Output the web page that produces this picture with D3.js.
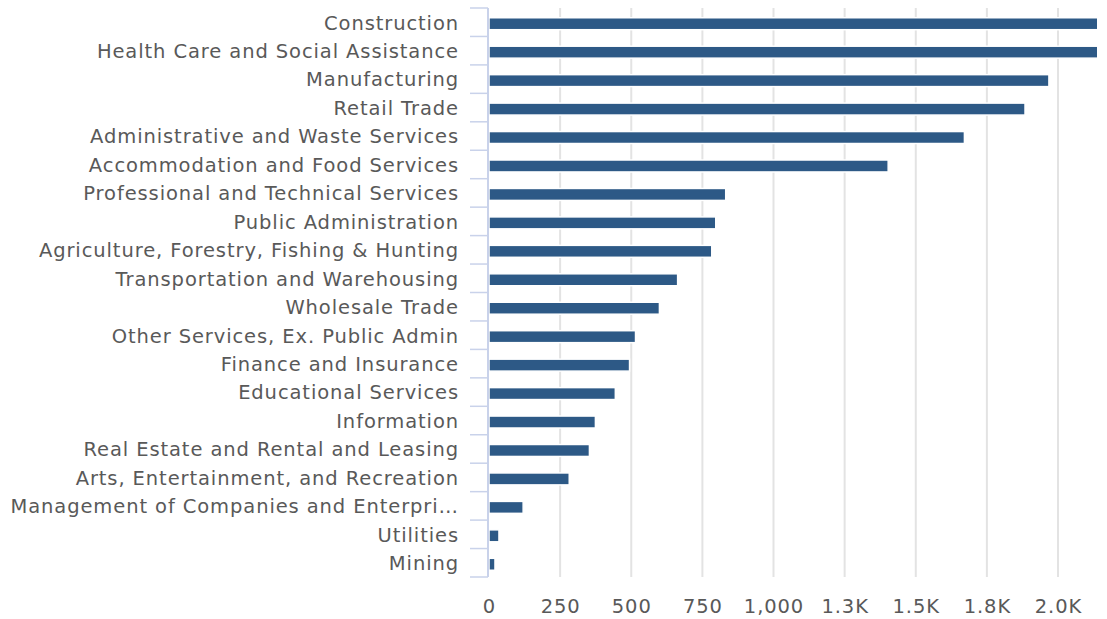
<!DOCTYPE html>
<html><head><meta charset="utf-8">
<script src="https://cdn.jsdelivr.net/npm/d3@7"></script>
<style>body{margin:0;background:#fff;}svg{display:block;}</style>
</head><body>
<svg id="c" width="1107" height="619"></svg>
<script>
const categories = ["Construction","Health Care and Social Assistance","Manufacturing","Retail Trade","Administrative and Waste Services","Accommodation and Food Services","Professional and Technical Services","Public Administration","Agriculture, Forestry, Fishing & Hunting","Transportation and Warehousing","Wholesale Trade","Other Services, Ex. Public Admin","Finance and Insurance","Educational Services","Information","Real Estate and Rental and Leasing","Arts, Entertainment, and Recreation","Management of Companies and Enterpri\u2026","Utilities","Mining"];
const values = [2260,2210,1968,1884,1671,1403,832,797,783,663,599,515,494,444,374,353,282,120,35,21];
const tickValues = [0,250,500,750,1000,1250,1500,1750,2000];
const tickLabels = ["0","250","500","750","1,000","1.3K","1.5K","1.8K","2.0K"];

const svg = d3.select("#c");
const m = {left:489, right:1097, top:8, bottom:577};
const x = d3.scaleLinear().domain([0, 2137]).range([m.left, m.right]);
const y = d3.scaleBand().domain(categories).range([m.top, m.bottom]).paddingInner(0.58).paddingOuter(0.29);
const font = "'DejaVu Sans', sans-serif";

svg.append("defs").append("clipPath").attr("id","clip")
  .append("rect").attr("x",m.left).attr("y",0).attr("width",m.right-m.left).attr("height",619);

// gridlines
svg.append("g").selectAll("line").data(tickValues.slice(1)).join("line")
  .attr("x1",d=>x(d)).attr("x2",d=>x(d)).attr("y1",m.top).attr("y2",m.bottom)
  .attr("stroke","#e3e3e3").attr("stroke-width",2);

// bars
svg.append("g").attr("clip-path","url(#clip)").selectAll("rect").data(values).join("rect")
  .attr("x",x(0)).attr("y",(d,i)=>y(categories[i])+1.5)
  .attr("width",d=>x(d)-x(0)).attr("height",y.bandwidth())
  .attr("fill","#2d5986").attr("stroke","#fff").attr("stroke-width",1.5);

// left axis
const yb = d3.scaleBand().domain(categories).range([m.top, m.bottom]);
const ax = svg.append("g");
ax.append("line").attr("x1",m.left-1).attr("x2",m.left-1).attr("y1",m.top).attr("y2",m.bottom)
  .attr("stroke","#c9d2ea").attr("stroke-width",2);
const bounds = categories.map(c=>yb(c)).concat([m.bottom]);
ax.selectAll("line.t").data(bounds).join("line").attr("class","t")
  .attr("x1",m.left-19).attr("x2",m.left-1).attr("y1",d=>d).attr("y2",d=>d)
  .attr("stroke","#c9d2ea").attr("stroke-width",1.5);
ax.selectAll("text").data(categories).join("text")
  .attr("x",459).attr("y",d=>yb(d)+yb.bandwidth()/2+0.5)
  .attr("dy","0.35em").attr("text-anchor","end")
  .attr("font-family",font).attr("font-size",19.5).attr("letter-spacing",0.9).attr("fill","#595959")
  .text(d=>d);

// bottom axis labels
svg.append("g").selectAll("text").data(tickValues).join("text")
  .attr("x",d=>x(d)+0.5).attr("y",606).attr("dy","0.35em").attr("text-anchor","middle")
  .attr("font-family",font).attr("font-size",19.5).attr("letter-spacing",0.9).attr("fill","#595959")
  .text((d,i)=>tickLabels[i]);
</script>
</body></html>
